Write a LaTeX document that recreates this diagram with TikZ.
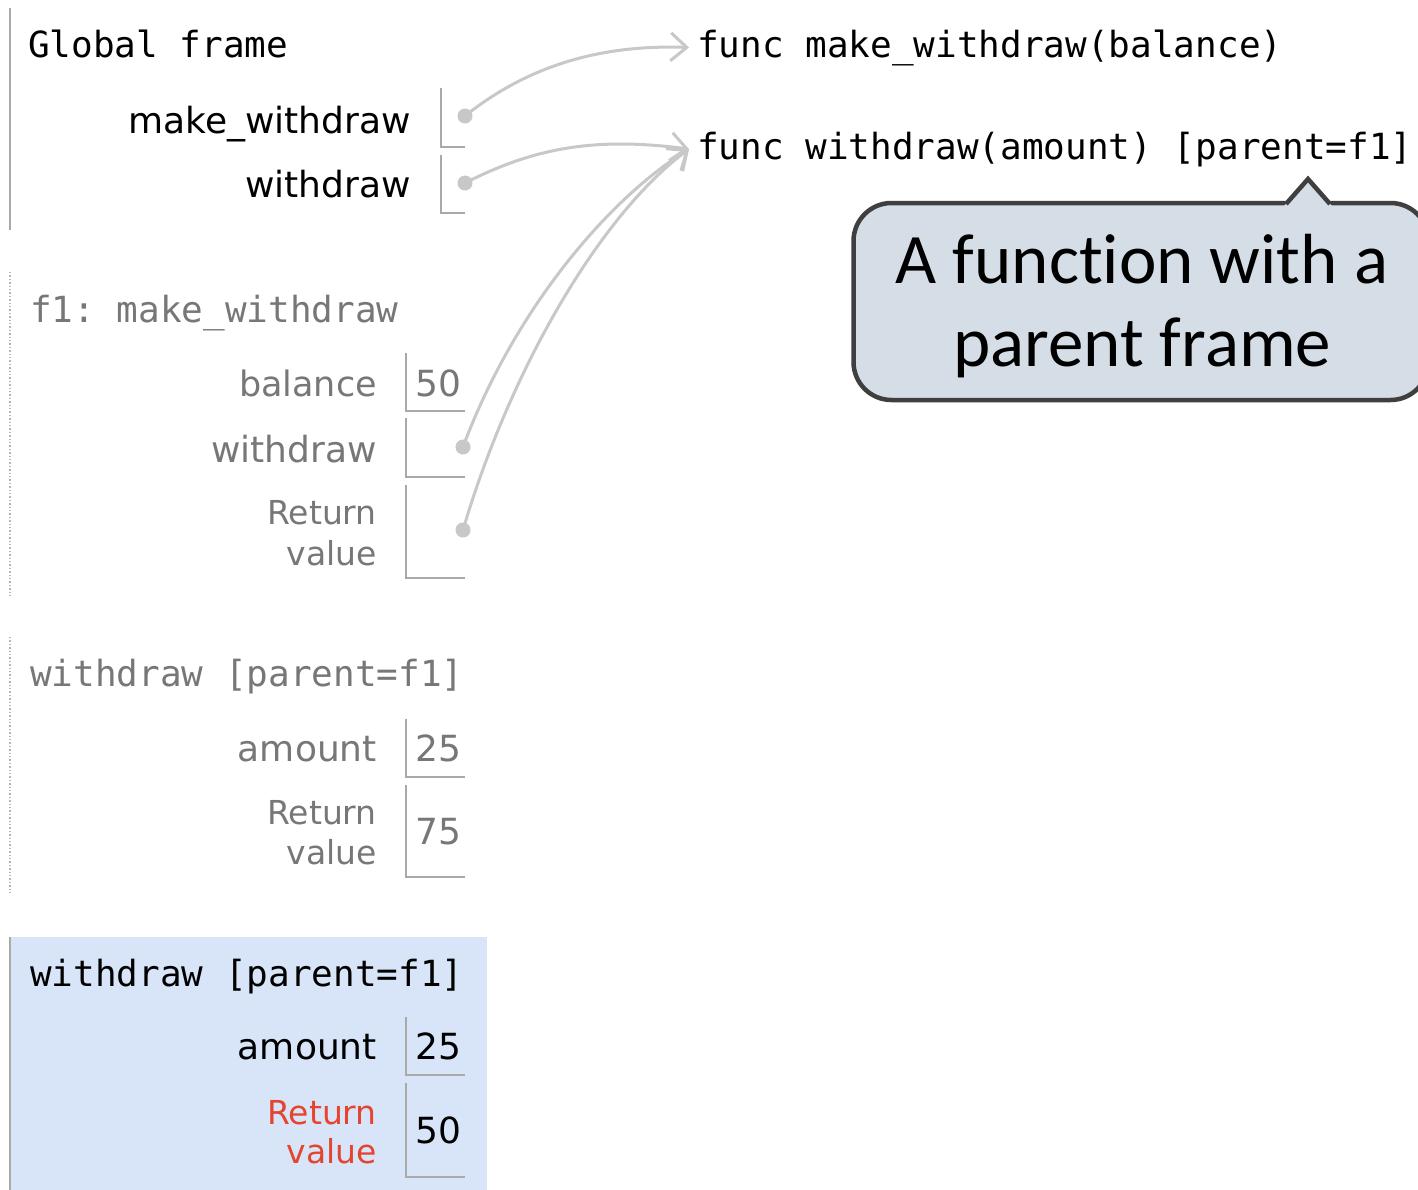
\documentclass[tikz,border=0pt]{standalone}
\usepackage{fontspec}
\usetikzlibrary{arrows.meta}
\newfontfamily\monof{DejaVu Sans Mono}
\newfontfamily\sansf{DejaVu Sans}
\newfontfamily\callf[Ligatures=NoCommon,RawFeature={-calt}]{Carlito}
\definecolor{arrgray}{HTML}{C8C8C8}
\definecolor{boxgray}{HTML}{A9A9A9}
\definecolor{framegray}{HTML}{B4B4B4}
\definecolor{txtgray}{HTML}{777777}
\definecolor{curblue}{HTML}{D8E5F9}
\definecolor{retred}{HTML}{E3452F}
\definecolor{callfill}{HTML}{D5DDE6}
\definecolor{callline}{HTML}{3F3F3F}
\frenchspacing
\begin{document}
\begin{tikzpicture}[x=1pt,y=-1pt,
  mono/.style={font=\monof\fontsize{36pt}{40pt}\selectfont, inner sep=0pt, anchor=base west},
  lbl/.style={font=\sansf\fontsize{36pt}{40pt}\selectfont, inner sep=0pt, anchor=base east},
  rlbl/.style={font=\sansf\fontsize{33pt}{40pt}\selectfont, inner sep=0pt, anchor=base east},
  val/.style={font=\sansf\fontsize{36pt}{40pt}\selectfont, inner sep=0pt, anchor=base west},
  slot/.style={draw=boxgray, line width=1.6pt},
  ptr/.style={circle, fill=arrgray, inner sep=0pt, minimum size=15pt},
  arr/.style={draw=arrgray, line width=3pt, -{Straight Barb[length=16pt,width=28pt,line width=3pt]}},
  callout/.style={draw=callline, line width=4.5pt, fill=callfill, rounded corners=38pt,
    minimum width=575pt, minimum height=197pt, inner sep=0pt},
  calltxt/.style={align=center, inner sep=0pt, font=\callf\fontsize{71pt}{83pt}\selectfont}
]
\useasboundingbox (0,0) rectangle (1418,1189);
\clip (0,0) rectangle (1418,1189);
\fill[white] (0,0) rectangle (1418,1189);

% ---------- current frame background ----------
\fill[curblue] (10,937) rectangle (487,1200);
\draw[boxgray, line width=1.6pt] (10,937) -- (10,1200);

% ---------- frame side lines ----------
\draw[boxgray, line width=1.6pt] (10,8) -- (10,230);
\draw[framegray, line width=1.4pt, dotted] (10,272) -- (10,597);
\draw[framegray, line width=1.4pt, dotted] (10,637) -- (10,893);

% ---------- Global frame ----------
\node[mono] (gtitle) at (28,57) {Global frame};
\node[lbl] (gmwl) at (411,133) {make\_withdraw};
\node[lbl] (gwl) at (411,197) {withdraw};
\draw[slot] (441,88) -- (441,147) -- (465,147);
\draw[slot] (441,155) -- (441,213) -- (465,213);

% ---------- f1 frame ----------
\node[mono, text=txtgray] (f1title) at (30,322) {f1: make\_withdraw};
\node[lbl, text=txtgray, font=\sansf\fontsize{35pt}{40pt}\selectfont] (f1bl) at (377,396) {balance};
\node[val, text=txtgray] (f1bv) at (415,396) {50};
\draw[slot] (406,353) -- (406,411) -- (465,411);
\node[lbl, text=txtgray] (f1wl) at (377,462) {withdraw};
\draw[slot] (406,418) -- (406,477) -- (465,477);
\node[rlbl, text=txtgray] (f1r1) at (377,524) {Return};
\node[rlbl, text=txtgray] (f1r2) at (377,565) {value};
\draw[slot] (406,485) -- (406,578) -- (465,578);

% ---------- withdraw frame (finished) ----------
\node[mono, text=txtgray] (w1title) at (30,686) {withdraw [parent=f1]};
\node[lbl, text=txtgray] (w1al) at (377,761) {amount};
\node[val, text=txtgray] (w1av) at (415,761) {25};
\draw[slot] (406,719) -- (406,777) -- (465,777);
\node[rlbl, text=txtgray] (w1r1) at (377,824) {Return};
\node[rlbl, text=txtgray] (w1r2) at (377,864) {value};
\node[val, text=txtgray] (w1rv) at (415,844) {75};
\draw[slot] (406,785) -- (406,877) -- (465,877);

% ---------- withdraw frame (current) ----------
\node[mono] (w2title) at (30,986) {withdraw [parent=f1]};
\node[lbl] (w2al) at (377,1059) {amount};
\node[val] (w2av) at (415,1059) {25};
\draw[slot] (406,1017) -- (406,1075) -- (465,1075);
\node[rlbl, text=retred] (w2r1) at (377,1124) {Return};
\node[rlbl, text=retred] (w2r2) at (377,1163) {value};
\node[val] (w2rv) at (415,1143) {50};
\draw[slot] (406,1083) -- (406,1177) -- (465,1177);

% ---------- function objects ----------
\node[mono] (fmw) at (697,57) {func make\_withdraw(balance)};
\node[mono] (fw) at (697,159) {func withdraw(amount) [parent=f1]};

% ---------- pointers ----------
\node[ptr] (pg1) at (465,116) {};
\node[ptr] (pg2) at (465,183) {};
\node[ptr] (pf1) at (463,447) {};
\node[ptr] (pf2) at (463,530) {};

\draw[arr] (pg1.center) .. controls (520,72) and (590,44) .. ([xshift=-8pt]fmw.west);
\draw[arr] (pg2.center) .. controls (530,150) and (590,136) .. ([xshift=-8pt]fw.west);
\draw[arr] (pf1.center) .. controls (510,320) and (600,205) .. ([xshift=-8pt]fw.west);
\draw[arr] (pf2.center) .. controls (510,370) and (600,215) .. ([xshift=-8pt]fw.west);

% ---------- callout ----------
\node[callout] (call) at (1141,301.5) {};
\fill[callfill] (1284,206) -- (1308,180) -- (1332,206) -- cycle;
\draw[callline, line width=4.5pt, line join=miter] (1286,204) -- (1308,179) -- (1330,204);
\node[calltxt] (calltext) at (1142,306) {A func\kern0pt tion with a\\parent frame};
\end{tikzpicture}
\end{document}
